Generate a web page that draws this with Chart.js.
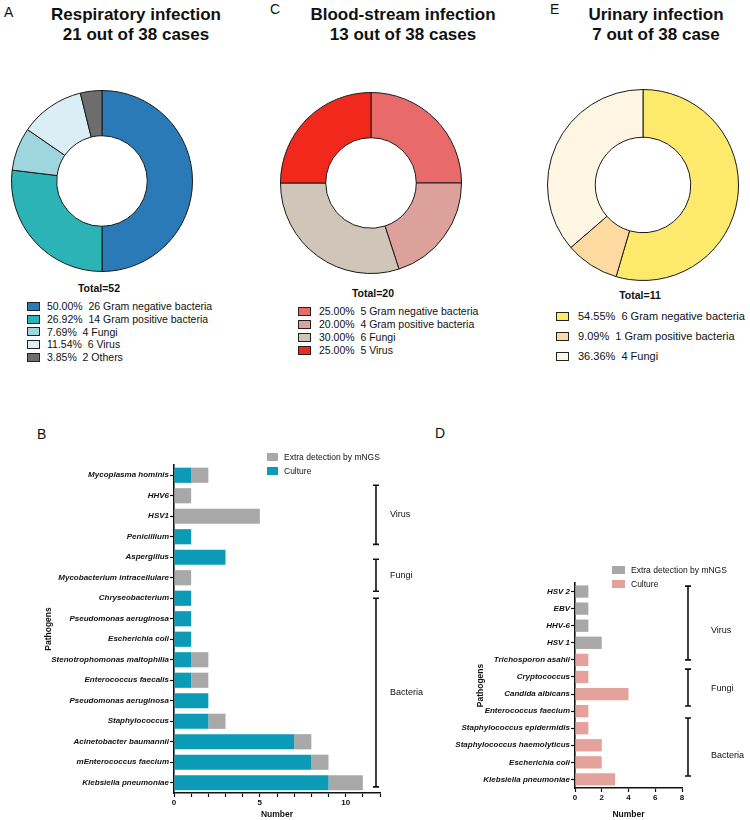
<!DOCTYPE html>
<html>
<head>
<meta charset="utf-8">
<script src="https://cdn.jsdelivr.net/npm/chart.js@4.4.1/dist/chart.umd.min.js"></script>
<style>
  body { margin: 0; width: 750px; height: 820px; position: relative; overflow: hidden; background: #fff;
         font-family: "Liberation Sans", Arial, sans-serif; color: #111; }
  .abs { position: absolute; }
  .letter { font-size: 14px; line-height: 14px; }
  .title { font-weight: bold; font-size: 17px; line-height: 20px; text-align: center; }
  .total { font-weight: bold; font-size: 10.5px; line-height: 12px; text-align: center; width: 100px; }
  .plegend .row { display: flex; align-items: center; white-space: pre; }
  .plegend .box { display: inline-block; width: 13px; height: 9px; border: 1px solid #222; box-sizing: border-box; }
  .blegend { font-size: 8.5px; }
  .blegend .row { display: flex; align-items: center; height: 14px; white-space: nowrap; }
  .blegend .box { display: inline-block; height: 8px; margin-right: 6px; }
  canvas { position: absolute; }
</style>
</head>
<body>

<div class="abs letter" style="left:4px;top:5px">A</div>
<div class="abs letter" style="left:270px;top:2px">C</div>
<div class="abs letter" style="left:550px;top:2px">E</div>
<div class="abs letter" style="left:37px;top:427px">B</div>
<div class="abs letter" style="left:435px;top:426px">D</div>

<div class="abs title" style="left:-14px;top:5px;width:300px">Respiratory infection<br>21 out of 38 cases</div>
<div class="abs title" style="left:253px;top:5px;width:300px">Blood-stream infection<br>13 out of 38 cases</div>
<div class="abs title" style="left:536px;top:5px;width:240px">Urinary infection<br>7 out of 38 case</div>

<canvas id="pieA" width="182" height="182" style="left:11px;top:90px"></canvas>
<canvas id="pieC" width="182" height="182" style="left:280px;top:92px"></canvas>
<canvas id="pieE" width="192" height="192" style="left:547px;top:89px"></canvas>

<div id="totA" class="abs total" style="left:49px;top:282px"></div>
<div id="totC" class="abs total" style="left:323px;top:287px"></div>
<div id="totE" class="abs total" style="left:590px;top:289px"></div>

<div id="legA" class="abs plegend" style="left:27px;top:300px;font-size:10.5px;line-height:12.8px"></div>
<div id="legC" class="abs plegend" style="left:298px;top:305px;font-size:10.5px;line-height:13px"></div>
<div id="legE" class="abs plegend" style="left:556px;top:306px;font-size:11px;line-height:20px"></div>

<canvas id="barB" width="450" height="380" style="left:0px;top:440px"></canvas>
<canvas id="barD" width="350" height="380" style="left:400px;top:440px"></canvas>

<div id="blegB" class="abs blegend" style="left:267px;top:450px"></div>
<div id="blegD" class="abs blegend" style="left:612px;top:563px"></div>

<script>
// ---- doughnut data ----
const respLabels = ['Gram negative bacteria', 'Gram positive bacteria', 'Fungi', 'Virus', 'Others'];
const respCounts = [26, 14, 4, 6, 2];
const bloodLabels = ['Gram negative bacteria', 'Gram positive bacteria', 'Fungi', 'Virus'];
const bloodCounts = [5, 4, 6, 5];
const urineLabels = ['Gram negative bacteria', 'Gram positive bacteria', 'Fungi'];
const urineCounts = [6, 1, 4];

// ---- bar data (B: respiratory, D: blood-stream) ----
const respPathogens = ['Mycoplasma hominis', 'HHV6', 'HSV1', 'Penicillium', 'Aspergillus',
  'Mycobacterium intracellulare', 'Chryseobacterium', 'Pseudomonas aeruginosa', 'Escherichia coli',
  'Stenotrophomonas maltophilia', 'Enterococcus faecalis', 'Pseudomonas aeruginosa', 'Staphylococcus',
  'Acinetobacter baumannii', 'mEnterococcus faecium', 'Klebsiella pneumoniae'];
const respCulture = [1, 0, 0, 1, 3, 0, 1, 1, 1, 1, 1, 2, 2, 7, 8, 9];
const respExtra   = [1, 1, 5, 0, 0, 1, 0, 0, 0, 1, 1, 0, 1, 1, 1, 2];
const respXMax = 12;

const bloodPathogens = ['HSV 2', 'EBV', 'HHV-6', 'HSV 1', 'Trichosporon asahii', 'Cryptococcus',
  'Candida albicans', 'Enterococcus faecium', 'Staphylococcus epidermidis',
  'Staphylococcus haemolyticus', 'Escherichia coli', 'Klebsiella pneumoniae'];
const bloodCulture = [0, 0, 0, 0, 1, 1, 4, 1, 1, 2, 2, 3];
const bloodExtra   = [1, 1, 1, 2, 0, 0, 0, 0, 0, 0, 0, 0];
const bloodXMax = 8;

const seriesNames = ['Culture', 'Extra detection by mNGS'];
const groupNames = ['Virus', 'Fungi', 'Bacteria'];
// group spans in category-index units (start, end) and where the label sits
const respGroupSpans = [[0.49, 3.37], [4.1, 5.66], [6.0, 15.2]];
const respGroupLabelAt = [1.9, 4.9, 10.6];
const bloodGroupSpans = [[-0.32, 4.0], [4.54, 6.7], [7.4, 10.8]];
const bloodGroupLabelAt = [2.3, 5.7, 9.6];

// ---- colours ----
const respColors = ['#2a7ab8', '#2cb3b6', '#9fd5dc', '#dbeef6', '#6d6d6d'];
const bloodColors = ['#e96a6b', '#dda19c', '#cfc6b9', '#f3281c'];
const urineColors = ['#fde96c', '#fcdaa0', '#fef6e3'];
const extraColor = '#a8a8a8';

Chart.defaults.font.family = '"Liberation Sans", Arial, sans-serif';
Chart.defaults.color = '#111';

function doughnut(id, labels, counts, colors) {
    new Chart(document.getElementById(id), {
        type: 'doughnut',
        data: {
            labels: labels,
            datasets: [{ data: counts, backgroundColor: colors, borderColor: '#1a1a1a', borderWidth: 1 }]
        },
        options: {
            responsive: false,
            animation: false,
            cutout: '50%',
            layout: { padding: 0 },
            plugins: { legend: { display: false }, tooltip: { enabled: false } }
        }
    });
}

function pieLegend(legId, totId, labels, counts, colors, gap) {
    const total = counts.reduce((a, b) => a + b, 0);
    document.getElementById(totId).textContent = 'Total=' + total;
    document.getElementById(legId).innerHTML = labels.map((l, i) =>
        `<div class="row"><span class="box" style="background:${colors[i]};margin-right:${gap}px"></span>` +
        `${(counts[i] / total * 100).toFixed(2)}%  ${counts[i]} ${l}</div>`).join('');
}

doughnut('pieA', respLabels, respCounts, respColors);
doughnut('pieC', bloodLabels, bloodCounts, bloodColors);
doughnut('pieE', urineLabels, urineCounts, urineColors);
pieLegend('legA', 'totA', respLabels, respCounts, respColors, 7);
pieLegend('legC', 'totC', bloodLabels, bloodCounts, bloodColors, 8);
pieLegend('legE', 'totE', urineLabels, urineCounts, urineColors, 9);

// brackets with group names to the right of the bar chart
const bracketPlugin = {
    id: 'brackets',
    afterDraw(chart, args, opts) {
        const y = chart.scales.y, ctx = chart.ctx;
        const x = chart.chartArea.right + opts.dx;
        ctx.save();
        ctx.strokeStyle = '#111';
        ctx.fillStyle = '#111';
        ctx.lineWidth = 1.6;
        ctx.font = '9px "Liberation Sans", Arial, sans-serif';
        ctx.textBaseline = 'middle';
        opts.spans.forEach((s, i) => {
            const y0 = y.getPixelForValue(s[0]), y1 = y.getPixelForValue(s[1]);
            ctx.beginPath();
            ctx.moveTo(x, y0); ctx.lineTo(x, y1);
            ctx.moveTo(x - 3, y0); ctx.lineTo(x + 3, y0);
            ctx.moveTo(x - 3, y1); ctx.lineTo(x + 3, y1);
            ctx.stroke();
            ctx.fillText(opts.names[i], x + opts.textGap, y.getPixelForValue(opts.labelAt[i]));
        });
        ctx.restore();
    }
};

function barChart(cfg) {
    const axisLine = { color: '#111', width: 1.6 };
    const tickGrid = { drawOnChartArea: false, offset: false, tickLength: 4, tickColor: '#111', tickWidth: 1.2 };
    return new Chart(document.getElementById(cfg.id), {
        type: 'bar',
        data: {
            labels: cfg.labels,
            datasets: [
                { label: seriesNames[0], data: cfg.culture, backgroundColor: cfg.cultureColor,
                  barPercentage: cfg.barPct, categoryPercentage: 1 },
                { label: seriesNames[1], data: cfg.extra, backgroundColor: extraColor,
                  barPercentage: cfg.barPct, categoryPercentage: 1 }
            ]
        },
        options: {
            indexAxis: 'y',
            responsive: false,
            animation: false,
            layout: { padding: cfg.padding },
            plugins: {
                legend: { display: false },
                tooltip: { enabled: false },
                brackets: { spans: cfg.spans, labelAt: cfg.labelAt, names: groupNames, dx: cfg.dx, textGap: cfg.textGap }
            },
            scales: {
                x: {
                    stacked: true, min: 0, max: cfg.xMax,
                    ticks: { stepSize: cfg.step, autoSkip: false, maxRotation: 0, padding: 1,
                             font: { weight: 'bold', size: 8 },
                             callback: v => (v % cfg.labelEvery === 0 ? v : '') },
                    grid: tickGrid, border: axisLine,
                    title: { display: true, text: 'Number', font: { weight: 'bold', size: 8.5 }, padding: 0 },
                    afterFit: s => { s.height = cfg.xHeight; }
                },
                y: {
                    stacked: true,
                    ticks: { autoSkip: false, padding: 1, font: { weight: 'bold', style: 'italic', size: 8 } },
                    grid: tickGrid, border: axisLine,
                    title: { display: true, text: 'Pathogens', font: { weight: 'bold', size: 8.5 },
                             padding: { top: cfg.titleInset, bottom: 0 } },
                    afterFit: s => { s.width = cfg.yWidth; }
                }
            }
        },
        plugins: [bracketPlugin]
    });
}

function barLegend(id, chart, boxW) {
    const ds = chart.data.datasets.slice().reverse();
    document.getElementById(id).innerHTML = ds.map(d =>
        `<div class="row"><span class="box" style="width:${boxW}px;background:${d.backgroundColor}"></span>${d.label}</div>`).join('');
}

const chartB = barChart({
    id: 'barB', labels: respPathogens, culture: respCulture, extra: respExtra, cultureColor: '#0c9bb6',
    xMax: respXMax, step: 1, labelEvery: 5, barPct: 0.74,
    padding: { left: 0, top: 25, right: 70, bottom: 0 }, yWidth: 174, titleInset: 44, xHeight: 27,
    spans: respGroupSpans, labelAt: respGroupLabelAt, dx: -4, textGap: 14
});
const chartD = barChart({
    id: 'barD', labels: bloodPathogens, culture: bloodCulture, extra: bloodExtra, cultureColor: '#e5a19c',
    xMax: bloodXMax, step: 2, labelEvery: 2, barPct: 0.72,
    padding: { left: 0, top: 143, right: 68, bottom: 0 }, yWidth: 175, titleInset: 76, xHeight: 32,
    spans: bloodGroupSpans, labelAt: bloodGroupLabelAt, dx: 6, textGap: 23
});
barLegend('blegB', chartB, 11);
barLegend('blegD', chartD, 13);
</script>
</body>
</html>
